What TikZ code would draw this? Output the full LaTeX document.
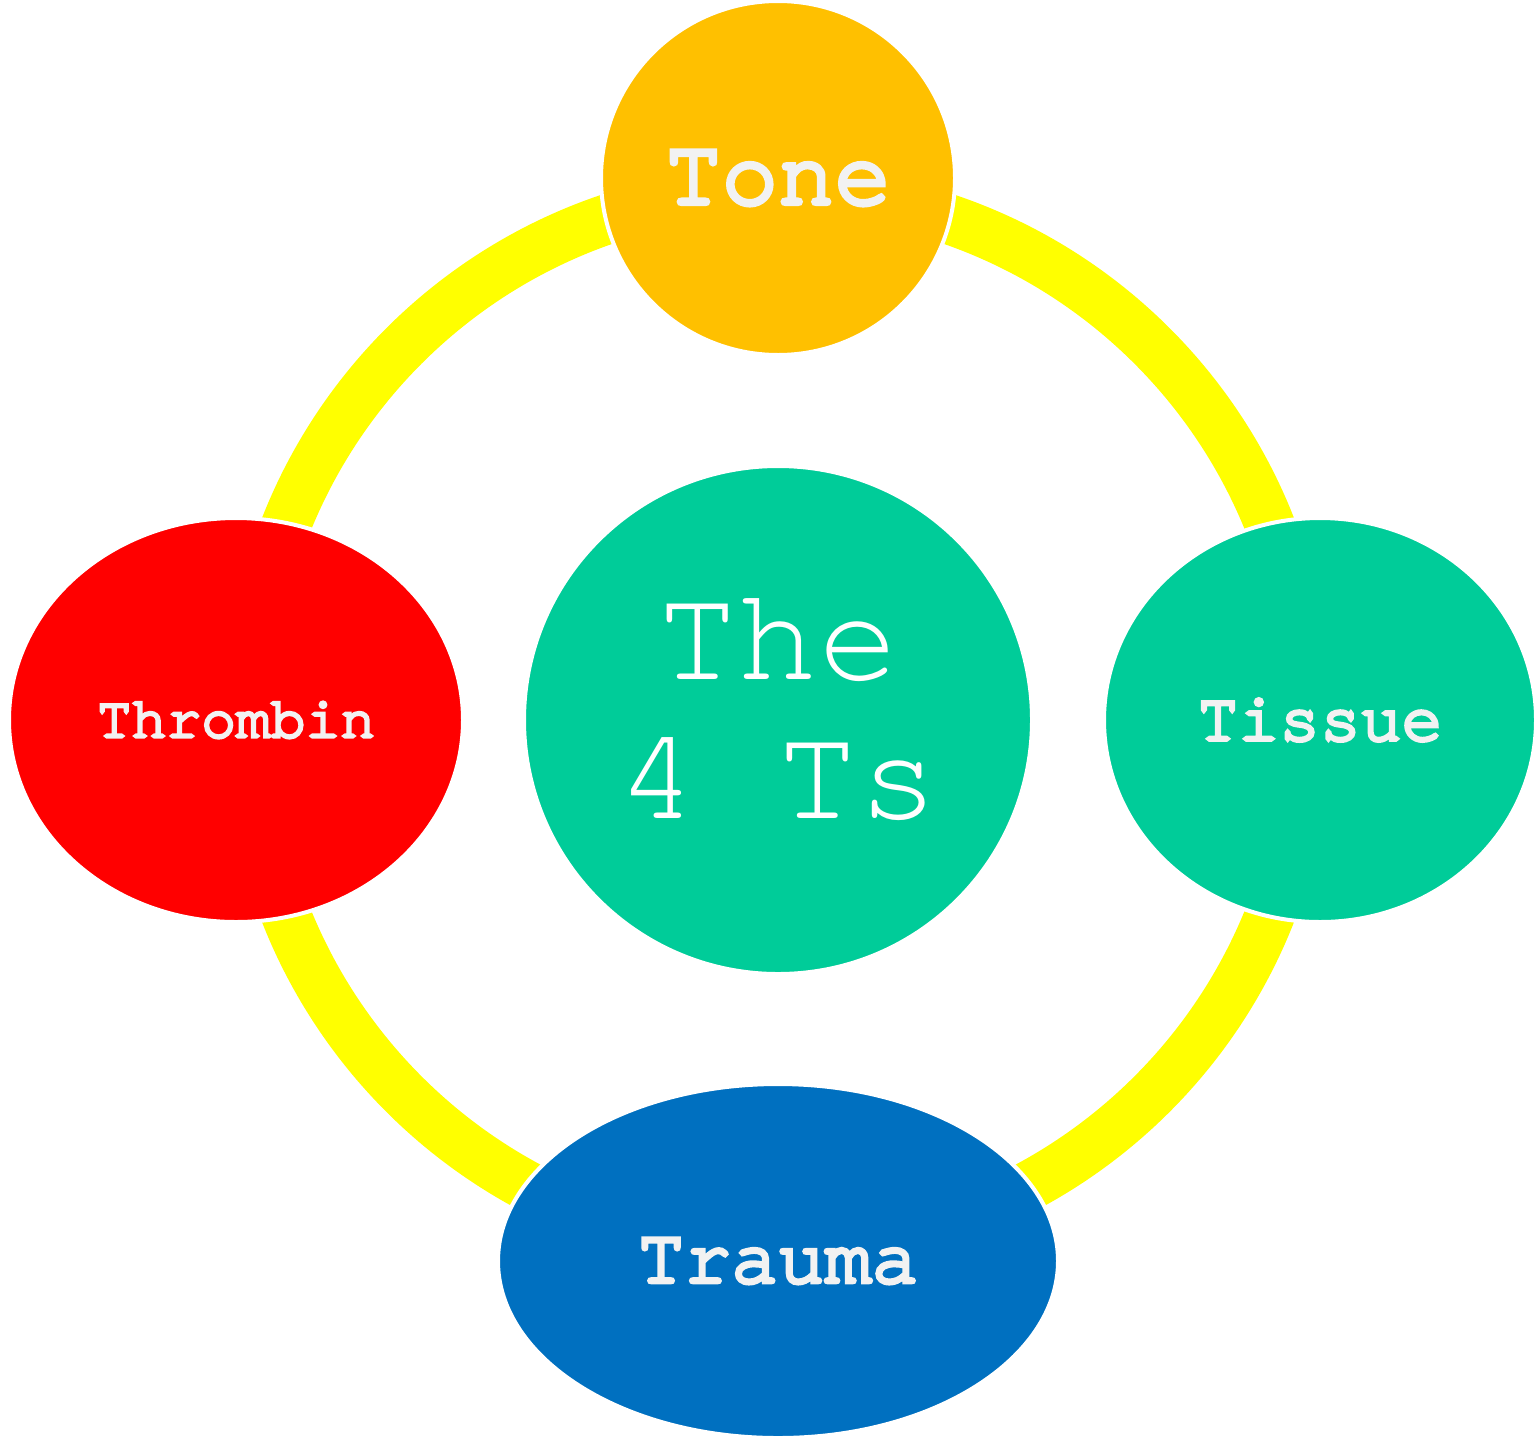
\documentclass[tikz,border=0pt]{standalone}
\usepackage{fontspec}
\setmonofont{TeX Gyre Cursor}
\newfontfamily\lblfont{TeX Gyre Cursor}[FakeBold=5]
\usetikzlibrary{shapes.geometric}
\definecolor{ringyellow}{HTML}{FFFF00}
\definecolor{toneorange}{HTML}{FFC000}
\definecolor{tealgreen}{HTML}{00CC99}
\definecolor{traumablue}{HTML}{0070C0}
\definecolor{labelgrey}{HTML}{F2F2F2}
\tikzset{
  blob/.style={ellipse, draw=white, line width=2pt, inner sep=0pt, outer sep=0pt},
  lbl/.style={text=labelgrey},
}
\begin{document}
\begin{tikzpicture}[x=0.5pt,y=-0.5pt]
\useasboundingbox (0,0) rectangle (1534,1440);
\coordinate (c) at (778,720);
\draw[ringyellow, line width=25pt] (c) circle[radius=529];
\node[blob, fill=tealgreen, minimum width=254pt, minimum height=254pt] (center) at (778,720) {};
\node[text=white, font=\ttfamily\fontsize{67}{69.5}\selectfont, align=center, inner sep=0pt]
      (ctext) at (778,710) {The\\4 Ts};
\node[blob, fill=toneorange, minimum width=177pt, minimum height=177pt,
      lbl, font=\lblfont\fontsize{47}{50}\selectfont] (tone) at (778,178) {Tone};
\node[blob, fill=tealgreen, minimum width=216pt, minimum height=202pt,
      lbl, font=\lblfont\fontsize{34}{36}\selectfont] (tissue) at (1320,720) {Tissue};
\node[blob, fill=red, minimum width=227pt, minimum height=202pt,
      lbl, font=\lblfont\fontsize{29}{31}\selectfont] (thrombin) at (236,720) {Thrombin};
\node[blob, fill=traumablue, minimum width=280pt, minimum height=177pt,
      lbl, font=\lblfont\fontsize{39}{41}\selectfont] (trauma) at (778,1261) {Trauma};
\end{tikzpicture}
\end{document}
